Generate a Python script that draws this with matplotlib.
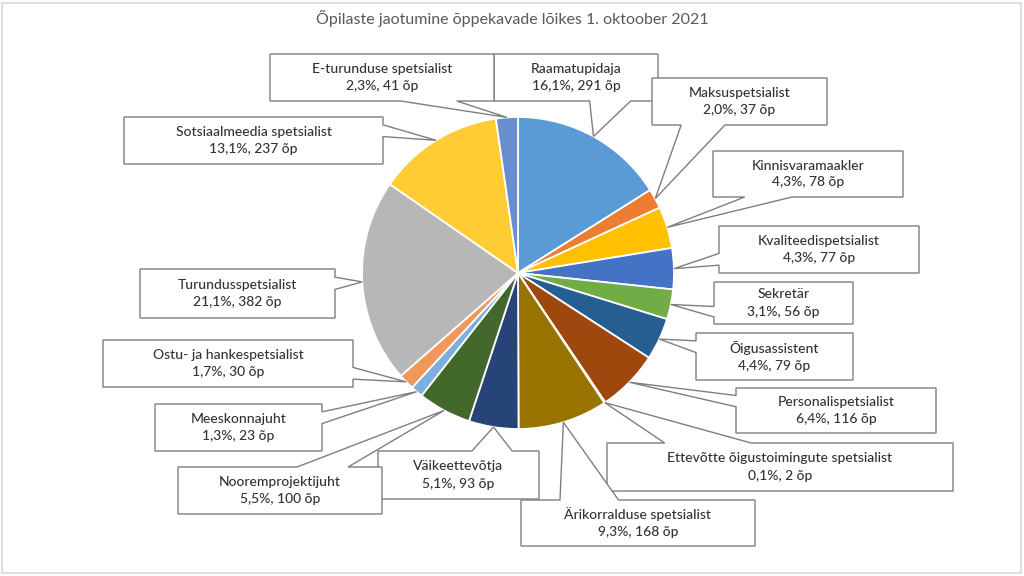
import numpy as np
import matplotlib
matplotlib.use("Agg")
import matplotlib.pyplot as plt
from matplotlib.patches import Polygon, Rectangle

# data
names = ["Raamatupidaja", "Maksuspetsialist", "Kinnisvaramaakler", "Kvaliteedispetsialist",
         "Sekretär", "Õigusassistent", "Personalispetsialist",
         "Ettevõtte õigustoimingute spetsialist", "Ärikorralduse spetsialist", "Väikeettevõtja",
         "Nooremprojektijuht", "Meeskonnajuht", "Ostu- ja hankespetsialist",
         "Turundusspetsialist", "Sotsiaalmeedia spetsialist", "E-turunduse spetsialist"]
students = [291, 37, 78, 77, 56, 79, 116, 2, 168, 93, 100, 23, 30, 382, 237, 41]
colors = ["#5B9BD5", "#ED7D31", "#FFC000", "#4472C4", "#70AD47", "#255E91", "#9E480E",
          "#636363", "#997300", "#264478", "#43682B", "#7CAFDD", "#F1975A", "#B7B7B7",
          "#FFCD33", "#698ED0"]
title = "Õpilaste jaotumine õppekavade lõikes 1. oktoober 2021"

# label box layout in pixels (left, top, right, bottom)
boxes = [(494, 54, 658, 101), (652, 78, 827, 125), (713, 151, 903, 197), (719, 226, 919, 273),
         (714, 282, 853, 324), (696, 333, 853, 380), (736, 388, 936, 433), (607, 443, 953, 491),
         (521, 500, 755, 546), (378, 451, 539, 499), (178, 467, 382, 514), (155, 404, 322, 451),
         (103, 340, 353, 387), (140, 269, 335, 318), (124, 117, 383, 164), (270, 54, 494, 101)]

W, H = 1024, 576
cx, cy, r = 518, 273, 156


def callout(box, tip):
    # wedge rectangle callout, like the office preset shape
    l, t, rr, b = box
    w, h = rr - l, b - t
    hc, vc = (l + rr) / 2, (t + b) / 2
    dx, dy = tip[0] - hc, tip[1] - vc
    dq = dx * h / w
    pts = [(l, t)]
    xg = (7, 10) if dx > 0 else (2, 5)
    yg = (7, 10) if dy > 0 else (2, 5)
    x1, x2 = l + w * xg[0] / 12, l + w * xg[1] / 12
    y1, y2 = t + h * yg[0] / 12, t + h * yg[1] / 12
    vert = abs(dy) > abs(dq)
    if vert and dy < 0:
        pts += [(x1, t), tip, (x2, t)]
    pts.append((rr, t))
    if not vert and dx > 0:
        pts += [(rr, y1), tip, (rr, y2)]
    pts.append((rr, b))
    if vert and dy > 0:
        pts += [(x2, b), tip, (x1, b)]
    pts.append((l, b))
    if not vert and dx < 0:
        pts += [(l, y2), tip, (l, y1)]
    return [(x, H - y) for x, y in pts]


fig = plt.figure(figsize=(W / 100, H / 100), dpi=100)
ax = fig.add_axes([0, 0, 1, 1])

ax.add_patch(Rectangle((2, 3), W - 5, H - 6, fill=False, ec="#dedede", lw=1.5))

wedges, _ = ax.pie(students, colors=colors, startangle=90, counterclock=False,
                   center=(cx, H - cy), radius=r, frame=True,
                   wedgeprops=dict(edgecolor="white", linewidth=1.3))
ax.set_xlim(0, W)
ax.set_ylim(0, H)
ax.set_aspect("equal")
ax.axis("off")

total = sum(students)
for wdg, name, val, box in zip(wedges, names, students, boxes):
    ang = np.deg2rad((wdg.theta1 + wdg.theta2) / 2)
    tip = (cx + r * np.cos(ang), cy - r * np.sin(ang))
    ax.add_patch(Polygon(callout(box, tip), closed=True, fc="white", ec="#7f7f7f",
                         lw=1.0, zorder=3))
    pct = f"{100 * val / total:.1f}".replace(".", ",")
    ax.text((box[0] + box[2]) / 2, H - (box[1] + box[3]) / 2, f"{name}\n{pct}%, {val} õp",
            ha="center", va="center", fontsize=10, family="Lato", fontweight="medium",
            color="#333333", linespacing=1.5, zorder=4)

ax.text(W / 2, H - 19, title, ha="center", va="center", fontsize=11.5,
        family="Lato", color="#595959")

fig.savefig("out.png", dpi=100)
